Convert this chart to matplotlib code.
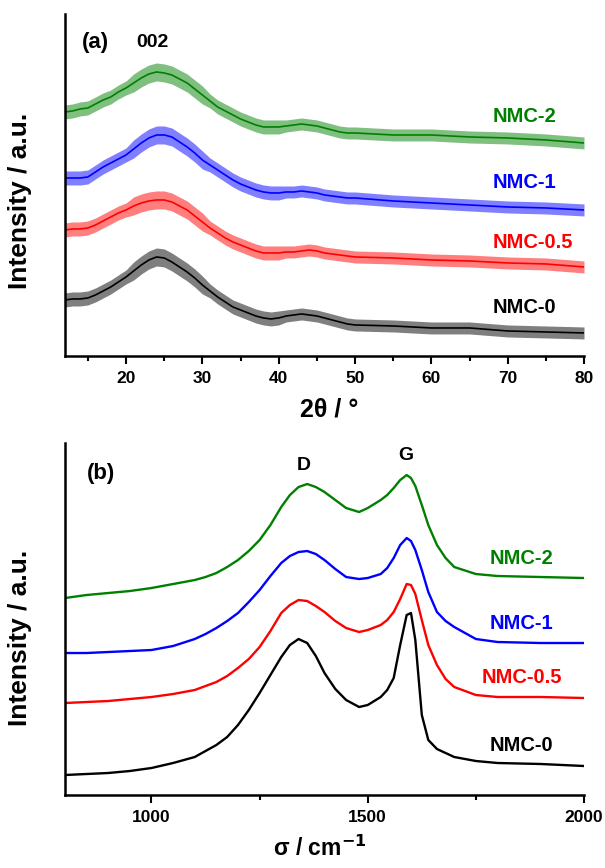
import numpy as np
import matplotlib
matplotlib.use('Agg')
import matplotlib.pyplot as plt
from matplotlib.ticker import MultipleLocator

plt.rcParams['font.family'] = ['Liberation Sans', 'DejaVu Sans']
plt.rcParams['font.weight'] = 'bold'
plt.rcParams['mathtext.default'] = 'bf'

# ---------- (a) XRD ----------
two_theta = list(range(12, 51)) + [55, 60, 65, 70, 75, 80]
xrd_nmc0 = [56, 57, 57, 58, 61, 65, 69, 74, 79, 85, 91, 96, 99, 98, 94, 89, 84, 78, 71,
            65, 59, 54, 49, 46, 43, 40, 38, 37, 38, 40, 41, 42, 41, 40, 38, 36, 34, 32, 31,
            30, 28, 28, 25, 24, 23]
xrd_nmc05 = [126, 127, 127, 128, 131, 135, 139, 143, 146, 150, 153, 155, 156, 156, 154, 150, 146, 140, 134,
             128, 123, 118, 114, 111, 108, 105, 103, 103, 103, 104, 104, 105, 106, 105, 103, 102, 101, 100, 99,
             98, 96, 95, 93, 92, 89]
xrd_nmc1 = [178, 178, 178, 179, 184, 189, 193, 197, 201, 207, 213, 218, 221, 221, 219, 214, 209, 203, 196,
            191, 186, 181, 176, 172, 169, 166, 164, 163, 163, 164, 164, 165, 164, 163, 161, 160, 159, 158, 158,
            155, 153, 151, 149, 148, 146]
xrd_nmc2 = [244, 245, 247, 248, 252, 256, 259, 264, 268, 273, 278, 282, 284, 283, 281, 277, 273, 267, 261,
            255, 249, 245, 241, 237, 234, 231, 229, 229, 229, 230, 231, 232, 231, 230, 228, 226, 224, 223, 223,
            221, 221, 219, 218, 216, 213]
# half width of the noise band
xrd_noise = [7] * 9 + [9] * 10 + [7] * 10 + [6] * 10 + [6] * 6

# ---------- (b) Raman ----------
sigma = [800, 850, 900, 950, 1000, 1050, 1100, 1125, 1150, 1175, 1200, 1225, 1250, 1275, 1300,
         1320, 1340, 1360, 1380, 1400, 1425, 1450, 1480, 1500, 1530, 1545, 1560, 1575, 1590, 1600,
         1610, 1625, 1640, 1660, 1680, 1700, 1750, 1800, 1900, 2000]
ram_nmc0 = [20, 21, 22, 24, 27, 32, 38, 44, 50, 58, 70, 85, 102, 120, 138,
            150, 156, 152, 139, 122, 106, 95, 88, 90, 98, 105, 117, 150, 180, 182,
            155, 80, 55, 46, 42, 38, 34, 32, 31, 29]
ram_nmc05 = [92, 93, 94, 96, 98, 101, 105, 109, 113, 119, 127, 136, 148, 164, 182,
             190, 195, 194, 189, 183, 174, 167, 163, 165, 170, 175, 183, 196, 211, 210,
             201, 175, 150, 130, 116, 108, 100, 98, 98, 97]
ram_nmc1 = [142, 142, 143, 144, 145, 149, 156, 161, 167, 174, 182, 193, 205, 219, 232,
            239, 243, 244, 241, 235, 226, 218, 216, 217, 221, 227, 237, 250, 257, 254,
            245, 225, 203, 183, 174, 168, 156, 153, 152, 152]
ram_nmc2 = [197, 200, 202, 204, 207, 211, 215, 218, 222, 228, 235, 244, 255, 270, 288,
            300, 308, 311, 308, 303, 295, 287, 283, 287, 295, 300, 307, 315, 320, 317,
            309, 290, 270, 250, 237, 228, 221, 219, 218, 217]

names = ['NMC-0', 'NMC-0.5', 'NMC-1', 'NMC-2']
colors = ['black', '#ff0000', '#0000ff', '#008000']
xrd_label_y = [48, 113, 173, 239]
ram_label_y = [50, 118, 172, 237]

fig = plt.figure(figsize=(6.05, 8.68), dpi=100)
ax1 = fig.add_axes([0.1074, 0.5899, 0.8579, 0.394])
ax2 = fig.add_axes([0.1074, 0.0841, 0.8579, 0.4055])

x = np.array(two_theta)
noise = np.array(xrd_noise)
for ys, c, name, ly in zip([xrd_nmc0, xrd_nmc05, xrd_nmc1, xrd_nmc2], colors, names, xrd_label_y):
    ys = np.array(ys)
    ax1.fill_between(x, ys - noise, ys + noise, color=c, alpha=0.5, lw=0)
    ax1.plot(x, ys, color=c, lw=1.2)
    ax1.text(68.0, ly, name, color=c, fontsize=14.5, fontweight='bold', va='center', ha='left')

ax1.set_xlim(12, 80)
ax1.set_ylim(0, 342)
ax1.text(16.05, 313, '(a)', fontsize=16, fontweight='bold', ha='center', va='center')
ax1.text(23.5, 313, '002', fontsize=14, fontweight='bold', ha='center', va='center')
ax1.xaxis.set_major_locator(MultipleLocator(10))
ax1.xaxis.set_minor_locator(MultipleLocator(5))
ax1.set_xlabel('2θ / °', fontsize=18, fontweight='bold', va='center')
ax1.xaxis.set_label_coords(0.51, (356 - 410) / 342)

for ys, c, name, ly in zip([ram_nmc0, ram_nmc05, ram_nmc1, ram_nmc2], colors, names, ram_label_y):
    ax2.plot(sigma, ys, color=c, lw=1.7)
    ax2.text(1856, ly, name, color=c, fontsize=14.5, fontweight='bold', va='center', ha='center')

ax2.set_xlim(800, 2000)
ax2.set_ylim(0, 352)
ax2.text(883, 322, '(b)', fontsize=16, fontweight='bold', ha='center', va='center')
ax2.text(1352, 330, 'D', fontsize=14, fontweight='bold', ha='center', va='center')
ax2.text(1589, 340, 'G', fontsize=14, fontweight='bold', ha='center', va='center')
ax2.xaxis.set_major_locator(MultipleLocator(500))
ax2.xaxis.set_minor_locator(MultipleLocator(250))
ax2.set_xlabel(r'σ / cm$^{-1}$', fontsize=16.5, fontweight='bold', va='center')
ax2.xaxis.set_label_coords(0.491, (795 - 848) / 352)

for ax, yc in [(ax1, (356 - 201) / 342), (ax2, (795 - 638) / 352)]:
    ax.spines['top'].set_visible(False)
    ax.spines['right'].set_visible(False)
    ax.spines['left'].set_linewidth(1.8)
    ax.spines['bottom'].set_linewidth(1.8)
    ax.set_yticks([])
    ax.tick_params(axis='x', which='major', length=6, width=1.5, labelsize=12.5, pad=5)
    ax.tick_params(axis='x', which='minor', length=3.5, width=1.5)
    for lab in ax.get_xticklabels():
        lab.set_fontweight('bold')
    ax.set_ylabel('Intensity / a.u.', fontsize=19, fontweight='bold', va='center')
    ax.yaxis.set_label_coords(-0.087, yc)

fig.savefig('out.png', dpi=100)
